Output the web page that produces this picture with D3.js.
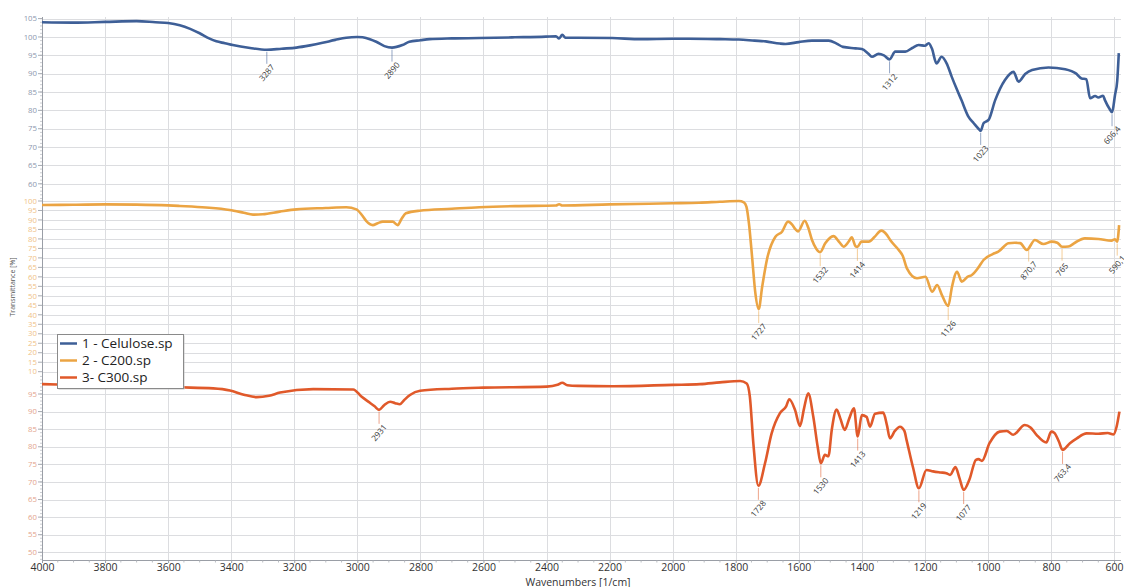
<!DOCTYPE html>
<html>
<head>
<meta charset="utf-8">
<script src="https://cdn.jsdelivr.net/npm/d3@7"></script>
<style>
  body { margin: 0; background: #fff; }
  svg { display: block; }
  text { font-family: "Open Sans", "Liberation Sans", sans-serif; }
</style>
</head>
<body>
<svg id="chart" width="1124" height="587"></svg>
<script>
// ---- Spectra (wavenumber in 1/cm, transmittance in %) ----
const celuloseWn = [4000,3900,3800,3700,3640,3600,3563,3530,3500,3470,3447,3420,3395,3340,3287,3240,3193,3150,3110,3070,3035,3000,2983,2960,2940,2914,2890,2857,2835,2800,2771,2700,2613,2500,2402,2370,2360,2350,2340,2300,2192,2100,2000,1948,1850,1790,1740,1705,1660,1642,1600,1558,1505,1480,1460,1420,1400,1380,1368,1347,1330,1312,1294,1262,1240,1220,1200,1188,1178,1163,1147,1131,1115,1100,1084,1062,1045,1030,1023,1014,1005,998,977,946,919,903,882,860,808,755,720,703,688,676,660,650,635,629,615,606.4,597,590,585];
const celuloseT  = [104.0,103.9,104.1,104.3,104.0,103.8,103.2,102.2,101.0,99.6,98.8,98.3,97.8,97.0,96.5,96.8,97.1,97.7,98.4,99.2,99.8,100.0,99.9,99.4,98.7,97.5,97.1,97.8,98.7,99.1,99.4,99.6,99.7,99.9,100.1,100.2,99.6,100.6,99.8,99.8,99.7,99.4,99.5,99.5,99.4,99.3,99.0,98.8,98.2,98.1,98.6,99.0,99.0,98.2,97.3,96.9,96.7,95.5,94.6,95.4,95.0,93.9,96.0,96.0,97.0,97.8,97.6,98.3,96.9,92.8,94.6,92.8,89.2,86.0,82.8,78.3,76.5,75.0,74.4,76.5,77.0,77.4,82.8,88.3,90.5,87.8,89.9,91.0,91.7,91.2,90.0,88.7,88.5,83.3,83.9,83.5,84.0,82.8,80.5,79.5,84.2,88.0,95.6];

const c200Wn = [4000,3900,3800,3700,3600,3563,3480,3405,3360,3331,3300,3246,3193,3100,3035,3003,2985,2972,2951,2935,2919,2888,2872,2860,2846,2803,2700,2613,2500,2370,2360,2350,2200,2000,1916,1850,1790,1774,1766,1758,1748,1738,1727,1716,1700,1674,1653,1634,1621,1610,1602,1581,1570,1558,1545,1532,1516,1490,1470,1458,1442,1432,1420,1414,1401,1378,1360,1338,1320,1310,1283,1270,1257,1225,1198,1177,1161,1146,1126,1114,1098,1083,1065,1051,1030,1014,985,967,935,915,898,877,851,824,798,780,765,745,724,693,650,608,597,590,584];
const c200T  = [97.9,98.0,98.2,98.1,97.7,97.4,96.6,95.3,93.8,92.8,93.0,94.4,95.6,96.3,96.7,95.6,92.5,89.5,87.3,88.3,89.1,89.1,87.3,90.5,93.5,94.9,95.9,96.7,97.3,97.6,98.3,97.6,98.2,98.8,99.1,99.6,100.0,99.3,97.0,88.2,70.6,52.0,43.0,54.8,69.8,81.2,83.8,89.1,87.5,85.0,84.0,89.6,86.0,79.4,75.0,73.0,77.7,81.5,78.0,75.9,78.5,80.8,76.2,75.8,78.6,78.6,81.0,84.4,82.0,79.4,74.2,71.0,64.5,59.3,60.1,52.2,55.7,50.4,44.6,54.8,62.7,57.5,60.0,61.0,65.0,68.9,72.0,73.3,77.7,78.0,77.8,74.2,79.4,77.3,78.6,78.0,75.9,76.0,78.0,80.3,80.0,79.1,79.8,78.6,87.3];

const c300Wn = [4000,3900,3800,3700,3600,3563,3457,3404,3360,3319,3280,3245,3140,3013,2986,2960,2945,2931,2915,2896,2880,2865,2850,2833,2801,2700,2600,2399,2365,2350,2334,2300,2188,2000,1913,1850,1786,1765,1755,1744,1728,1707,1686,1660,1640,1630,1612,1596,1583,1570,1554,1540,1530,1517,1506,1495,1480,1468,1454,1440,1425,1413,1400,1385,1374,1358,1332,1320,1311,1295,1279,1265,1258,1237,1219,1195,1174,1150,1132,1120,1103,1090,1077,1059,1038,1030,1019,995,963,940,920,883,865,846,815,799,790,775,763.4,740,718,687,650,620,602,592,583];
const c300T  = [97.8,97.6,97.4,97.2,97.0,96.9,96.6,96.0,94.8,94.1,94.5,95.4,96.4,96.3,94.2,92.5,91.5,90.5,91.8,92.8,92.4,92.1,93.4,94.7,95.9,96.5,96.8,97.1,97.6,98.2,97.5,97.3,97.2,97.6,97.8,98.3,98.7,98.0,94.2,81.0,68.9,75.3,83.8,89.5,91.5,93.5,90.5,85.9,91.0,95.2,88.6,80.0,75.3,77.7,77.3,85.0,90.6,88.0,84.8,88.0,90.9,82.9,89.0,88.5,85.7,89.4,89.7,86.0,82.4,84.5,85.7,84.5,81.9,73.9,68.2,73.4,73.0,72.7,72.5,72.0,74.2,71.0,67.7,70.6,76.3,76.5,76.0,81.0,84.3,84.5,83.4,86.2,85.5,83.4,81.2,84.3,84.0,81.5,79.1,81.0,82.4,83.8,83.7,83.9,83.5,85.7,90.0];

// ---- Peak annotations ----
const celulosePeaks = [3287, 2890, 1312, 1023, 606.4];
const celulosePeakLabels = ["3287", "2890", "1312", "1023", "606,4"];
const c200Peaks = [1727, 1532, 1414, 1126, 870.7, 765, 590];
const c200PeakLabels = ["1727", "1532", "1414", "1126", "870,7", "765", "590,1"];
const c300Peaks = [2931, 1728, 1530, 1413, 1219, 1077, 763.4];
const c300PeakLabels = ["2931", "1728", "1530", "1413", "1219", "1077", "763,4"];

// ---- Axis ticks ----
const xTickValues = d3.range(4000, 599, -200);
const celuloseTicks = d3.range(60, 106, 5);
const c200Ticks = d3.range(10, 101, 5);
const c300Ticks = d3.range(50, 96, 5);

const seriesNames = ["1 - Celulose.sp", "2 - C200.sp", "3- C300.sp"];
const seriesColors = ["#3e5f97", "#eba443", "#e0592a"];
const tickLabelColors = ["#8c97ae", "#efc287", "#e3a48d"];

// ---- Layout ----
const svg = d3.select("#chart");
const W = 1124, H = 587;
const plotL = 42, plotR = 1121, plotT = 17, plotB = 560;

svg.append("rect").attr("width", W).attr("height", H).attr("fill", "#fff");

const x = d3.scaleLinear().domain([4000, 578]).range([plotL, plotR]);
const yCel = d3.scaleLinear().domain([60, 105]).range([183.8, 18.6]);
const yC200 = d3.scaleLinear().domain([10, 100]).range([371.7, 201]);
const yC300 = d3.scaleLinear().domain([50, 95]).range([552.3, 394]);

const panels = [
  { wn: celuloseWn, t: celuloseT, y: yCel, ticks: celuloseTicks, peaks: celulosePeaks, labels: celulosePeakLabels, minor: d3.range(56, 106, 1) },
  { wn: c200Wn, t: c200T, y: yC200, ticks: c200Ticks, peaks: c200Peaks, labels: c200PeakLabels, minor: [] },
  { wn: c300Wn, t: c300T, y: yC300, ticks: c300Ticks, peaks: c300Peaks, labels: c300PeakLabels, minor: d3.range(48, 101, 1) }
];

// Grid
const grid = svg.append("g").attr("stroke", "#dcdde0").attr("stroke-width", 1);
grid.selectAll("line.v").data(xTickValues).join("line")
  .attr("x1", d => Math.round(x(d)) + 0.5).attr("x2", d => Math.round(x(d)) + 0.5)
  .attr("y1", plotT).attr("y2", plotB);
panels.forEach(p => {
  grid.append("g").selectAll("line").data(p.ticks).join("line")
    .attr("x1", plotL).attr("x2", plotR)
    .attr("y1", d => Math.round(p.y(d)) + 0.5).attr("y2", d => Math.round(p.y(d)) + 0.5);
});

// Left axis
const axisG = svg.append("g");
axisG.append("line").attr("x1", plotL + 0.5).attr("x2", plotL + 0.5).attr("y1", plotT).attr("y2", plotB)
  .attr("stroke", "#9a9ea6");
panels.forEach((p, i) => {
  const g = axisG.append("g");
  g.selectAll("line.minor").data(p.minor.filter(v => p.y(v) > plotT && p.y(v) < plotB)).join("line")
    .attr("x1", plotL - 2).attr("x2", plotL)
    .attr("y1", d => p.y(d)).attr("y2", d => p.y(d))
    .attr("stroke", "#b5b8be").attr("stroke-width", 0.7);
  g.selectAll("line.major").data(p.ticks).join("line")
    .attr("x1", plotL - 4).attr("x2", plotL)
    .attr("y1", d => p.y(d)).attr("y2", d => p.y(d))
    .attr("stroke", "#a9adb4");
  g.selectAll("text").data(p.ticks).join("text")
    .attr("x", plotL - 5).attr("y", d => p.y(d)).attr("dy", "0.35em")
    .attr("text-anchor", "end").attr("font-size", 7.8)
    .attr("fill", tickLabelColors[i])
    .text(d => d);
});

svg.append("text")
  .attr("transform", "translate(15,287) rotate(-90)")
  .attr("text-anchor", "middle").attr("font-size", 7).attr("fill", "#555")
  .text("Transmittance [%]");

// Bottom axis
const xAxis = d3.axisBottom(x).tickValues(xTickValues).tickSize(3).tickPadding(1).tickFormat(d3.format("d"));
const xg = svg.append("g").attr("transform", `translate(0,${plotB})`).call(xAxis);
xg.select(".domain").attr("stroke", "#9a9ea6").attr("d", `M${plotL},0.5H${plotR}`);
xg.selectAll(".tick line").attr("stroke", "#9a9ea6");
xg.selectAll(".tick text").attr("font-size", 10.5).attr("fill", "#333").attr("font-family", '"Open Sans", sans-serif');
const xMinor = d3.range(4000, 578, -50).filter(v => v % 200 !== 0);
svg.append("g").selectAll("line").data(xMinor).join("line")
  .attr("x1", d => x(d)).attr("x2", d => x(d))
  .attr("y1", plotB).attr("y2", plotB + 2.5)
  .attr("stroke", "#a9adb4").attr("stroke-width", 0.8);

svg.append("text")
  .attr("x", 578).attr("y", 585.5).attr("text-anchor", "middle")
  .attr("font-size", 10.5).attr("fill", "#333")
  .text("Wavenumbers [1/cm]");

// Spectra
function valueAt(wn, t, w) {
  for (let k = 0; k < wn.length - 1; k++) {
    if (wn[k] >= w && wn[k + 1] <= w) {
      const f = (wn[k] - w) / (wn[k] - wn[k + 1]);
      return t[k] + f * (t[k + 1] - t[k]);
    }
  }
  return t[t.length - 1];
}

panels.forEach((p, i) => {
  const pts = p.wn.map((w, k) => [w, p.t[k]]);
  const line = d3.line().x(d => x(d[0])).y(d => p.y(d[1])).curve(d3.curveMonotoneX);
  svg.append("path").datum(pts)
    .attr("d", line)
    .attr("fill", "none")
    .attr("stroke", seriesColors[i])
    .attr("stroke-width", 2.6)
    .attr("stroke-linejoin", "round");

  const ann = svg.append("g");
  p.peaks.forEach((w, k) => {
    const px = x(w);
    const py = p.y(valueAt(p.wn, p.t, w));
    ann.append("line")
      .attr("x1", px).attr("x2", px)
      .attr("y1", py + 2).attr("y2", py + 14)
      .attr("stroke", seriesColors[i]).attr("stroke-opacity", 0.55).attr("stroke-width", 1);
    ann.append("text")
      .attr("transform", `translate(${px},${py + 23}) rotate(-50)`)
      .attr("text-anchor", "middle").attr("dy", "0.35em")
      .attr("font-size", 8.2).attr("fill", "#3a3a3a")
      .text(p.labels[k]);
  });
});

// Legend
const lg = svg.append("g").attr("transform", "translate(57,334)");
lg.append("rect").attr("x", 1.5).attr("y", 1.5).attr("width", 126).attr("height", 54).attr("fill", "#c8c8c8");
lg.append("rect").attr("x", 0.5).attr("y", 0.5).attr("width", 126).attr("height", 54)
  .attr("fill", "#fff").attr("stroke", "#8a8a8a");
seriesNames.forEach((name, i) => {
  const yy = 9.5 + i * 17;
  lg.append("line").attr("x1", 3).attr("x2", 20).attr("y1", yy).attr("y2", yy)
    .attr("stroke", seriesColors[i]).attr("stroke-width", 2.5);
  lg.append("text").attr("x", 25).attr("y", yy).attr("dy", "0.35em")
    .attr("font-size", 13.5).attr("fill", "#222").text(name);
});
</script>
</body>
</html>
